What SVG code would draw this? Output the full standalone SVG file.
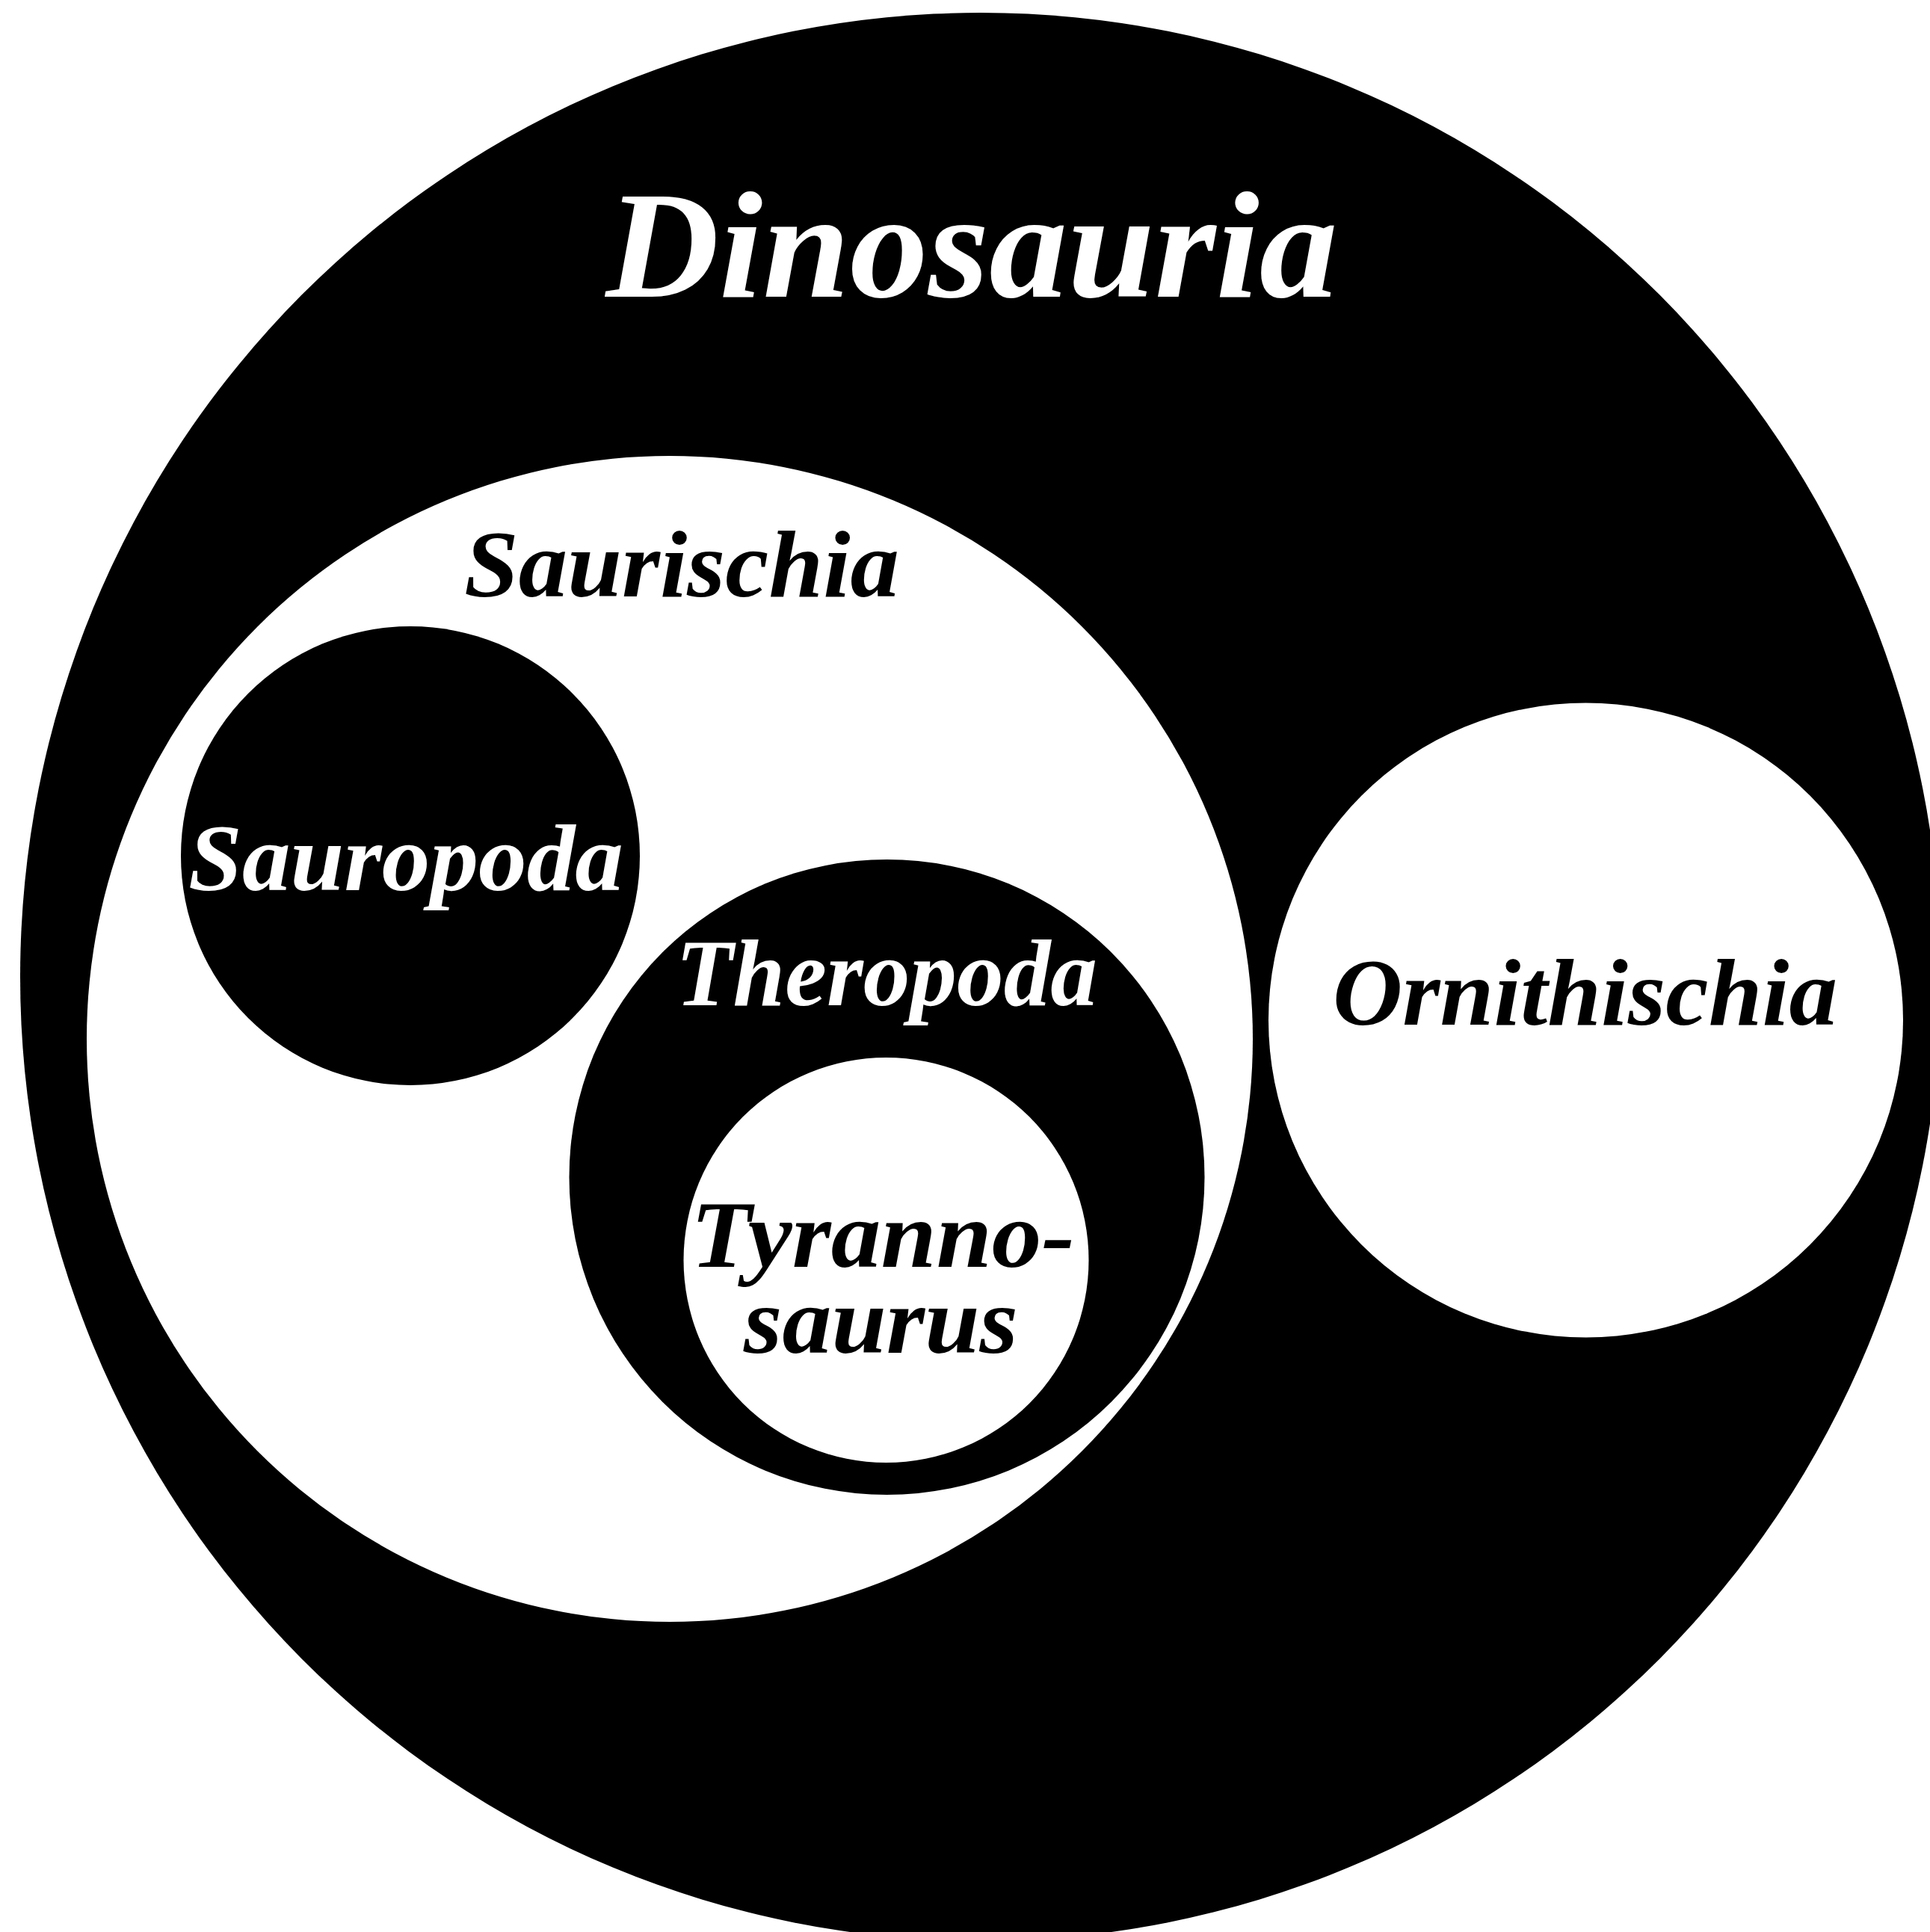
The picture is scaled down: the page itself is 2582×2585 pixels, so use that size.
<svg xmlns="http://www.w3.org/2000/svg" width="2582" height="2585" viewBox="0 0 2582 2585">
<style>
.lbl{font-family:"Liberation Serif","Times New Roman",serif;font-style:italic;font-weight:bold;text-anchor:middle;}
.big{font-size:204px;}
.sm{font-size:128px;}
.w{fill:#ffffff;}
.k{fill:#000000;}
</style>
<rect x="0" y="0" width="2582" height="2585" fill="#ffffff"/>
<g id="dinosauria">
<ellipse class="k" cx="1312" cy="1307" rx="1285" ry="1290"/>
<text class="lbl big w" x="1300" y="397" textLength="979" lengthAdjust="spacingAndGlyphs">Dinosauria</text>
</g>
<g id="saurischia">
<circle class="w" cx="896" cy="1390" r="780"/>
<text class="lbl sm k" x="912" y="798" textLength="582" lengthAdjust="spacingAndGlyphs">Saurischia</text>
</g>
<g id="sauropoda">
<circle class="k" cx="549" cy="1145" r="307"/>
<text class="lbl sm w" x="543" y="1191" textLength="582" lengthAdjust="spacingAndGlyphs">Sauropoda</text>
</g>
<g id="theropoda">
<circle class="k" cx="1186.5" cy="1575" r="425"/>
<text class="lbl sm w" x="1186" y="1345" textLength="564" lengthAdjust="spacingAndGlyphs">Theropoda</text>
</g>
<g id="tyrannosaurus">
<circle class="w" cx="1185.5" cy="1686" r="271"/>
<text class="lbl sm k" x="1181" y="1695" textLength="514" lengthAdjust="spacingAndGlyphs">Tyranno-</text>
<text class="lbl sm k" x="1178.5" y="1810" textLength="367" lengthAdjust="spacingAndGlyphs">saurus</text>
</g>
<g id="ornithischia">
<circle class="w" cx="2121.5" cy="1365" r="424.5"/>
<text class="lbl sm k" x="2120.5" y="1371" textLength="675" lengthAdjust="spacingAndGlyphs">Ornithischia</text>
</g>
<g id="connectors"/>
</svg>
